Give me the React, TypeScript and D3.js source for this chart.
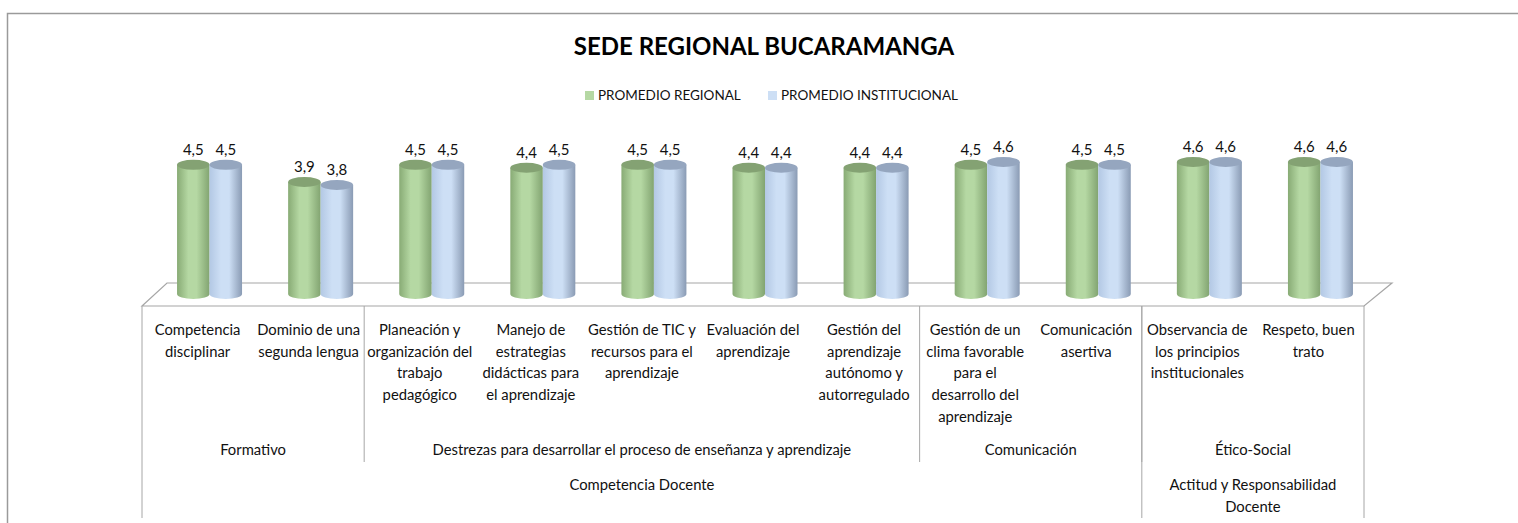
import React from "react";
import * as d3 from "d3";

const title = "SEDE REGIONAL BUCARAMANGA";
const seriesNames = ["PROMEDIO REGIONAL", "PROMEDIO INSTITUCIONAL"];
const categories = [
  "Competencia\ndisciplinar",
  "Dominio de una\nsegunda lengua",
  "Planeación y\norganización del\ntrabajo\npedagógico",
  "Manejo de\nestrategias\ndidácticas para\nel aprendizaje",
  "Gestión de TIC y\nrecursos para el\naprendizaje",
  "Evaluación del\naprendizaje",
  "Gestión del\naprendizaje\nautónomo y\nautorregulado",
  "Gestión de un\nclima favorable\npara el\ndesarrollo del\naprendizaje",
  "Comunicación\nasertiva",
  "Observancia de\nlos principios\ninstitucionales",
  "Respeto, buen\ntrato",
];
const regional = [4.5, 3.9, 4.5, 4.4, 4.5, 4.4, 4.4, 4.5, 4.5, 4.6, 4.6];
const institucional = [4.5, 3.8, 4.5, 4.5, 4.5, 4.4, 4.4, 4.6, 4.5, 4.6, 4.6];
const level1Labels = ["Formativo", "Destrezas para desarrollar el proceso de enseñanza y aprendizaje", "Comunicación", "Ético-Social"];
const level1Spans = [[0, 2], [2, 7], [7, 9], [9, 11]];
const level2Labels = ["Competencia Docente", "Actitud y Responsabilidad\nDocente"];
const level2Spans = [[0, 9], [9, 11]];

const FONT = "Lato, 'Open Sans', sans-serif";
const GREEN = { left: "#88ab75", mid: "#b5d8a3", right: "#82a471", top: "#84a273" };
const BLUE = { left: "#b3c8e4", mid: "#cddff5", right: "#8a9bb4", top: "#95a6bf" };
const TXT = "#111";
const FS = 14.8;

export default function App() {
  const W = 1518, H = 523;
  const x0 = 142, x1 = 1364;
  const floorFront = 306, floorBack = 283, depthDx = 25;
  const baseY = 294;
  const x = d3.scaleBand<number>().domain(d3.range(categories.length)).range([x0, x1]).padding(0);
  const y = d3.scaleLinear().domain([0, 5]).range([baseY, baseY - 143.5]);
  const inner = d3.scaleBand<number>().domain([0, 1]).range([-32.5, 32.5]).padding(0);
  const barShift = 12;
  const ry = 5;
  const series = [
    { values: regional, c: GREEN, id: "g" },
    { values: institucional, c: BLUE, id: "b" },
  ];
  const lineColor = "#a6a6a6";
  const lh = 21.7;

  return (
    <svg width={W} height={H} style={{ position: "absolute", left: 0, top: 0, background: "#fff" }}>
      <defs>
        {series.map((s) => (
          <linearGradient key={s.id} id={"grad-" + s.id} x1="0" x2="1" y1="0" y2="0">
            <stop offset="0%" stopColor={s.c.left} />
            <stop offset="35%" stopColor={s.c.mid} />
            <stop offset="60%" stopColor={s.c.mid} />
            <stop offset="100%" stopColor={s.c.right} />
          </linearGradient>
        ))}
      </defs>
      {/* chart border */}
      <path d={`M7.5,${H} V13.5 H${W}`} fill="none" stroke="#9a9a9a" strokeWidth={1.5} />
      {/* title */}
      <text x={764} y={55} textAnchor="middle" fontFamily={FONT} fontWeight={700} fontSize={24} fill="#000">{title}</text>
      {/* legend */}
      {series.map((s, i) => {
        const lx = [585, 768][i];
        return (
          <g key={s.id}>
            <rect x={lx} y={91} width={9} height={9} fill={s.c.mid} />
            <text x={lx + 13} y={100} fontFamily={FONT} fontSize={13.5} fill={TXT}>{seriesNames[i]}</text>
          </g>
        );
      })}
      {/* floor */}
      <path
        d={`M${x0},${floorFront} L${x0 + depthDx},${floorBack} L${x1 + depthDx + 3},${floorBack} L${x1},${floorFront} Z`}
        fill="#fff" stroke={lineColor} strokeWidth={1.2}
      />
      {/* cylinders */}
      {categories.map((_, i) => (
        <g key={i}>
          {series.map((s, k) => {
            const v = s.values[i];
            const cx = (x(i) as number) + x.bandwidth() / 2 + barShift + (inner(k) as number) + inner.bandwidth() / 2;
            const rx = inner.bandwidth() / 2;
            const top = y(v);
            return (
              <g key={s.id}>
                <path
                  d={`M${cx - rx},${top} V${baseY} A${rx},${ry} 0 0 0 ${cx + rx},${baseY} V${top} Z`}
                  fill={`url(#grad-${s.id})`}
                />
                <ellipse cx={cx} cy={top} rx={rx} ry={ry} fill={s.c.top} />
                <text x={cx} y={top - ry - 5} textAnchor="middle" fontFamily={FONT} fontSize={15} fill={TXT}>
                  {d3.format(".1f")(v).replace(".", ",")}
                </text>
              </g>
            );
          })}
        </g>
      ))}
      {/* label table lines */}
      <line x1={x0} x2={x0} y1={floorFront} y2={518} stroke={lineColor} />
      <line x1={x1} x2={x1} y1={floorFront} y2={518} stroke={lineColor} />
      {level1Spans.slice(1).map(([a], i) => (
        <line key={"l1" + i} x1={x(a) as number} x2={x(a) as number} y1={floorFront} y2={462} stroke={lineColor} />
      ))}
      {level2Spans.slice(1).map(([a], i) => (
        <line key={"l2" + i} x1={x(a) as number} x2={x(a) as number} y1={floorFront} y2={518} stroke={lineColor} />
      ))}
      {/* category labels */}
      {categories.map((c, i) => (
        <text key={"c" + i} textAnchor="middle" fontFamily={FONT} fontSize={FS} fill={TXT}>
          {c.split("\n").map((ln, j) => (
            <tspan key={j} x={(x(i) as number) + x.bandwidth() / 2} y={335 + j * lh}>{ln}</tspan>
          ))}
        </text>
      ))}
      {level1Labels.map((l, i) => {
        const [a, b] = level1Spans[i];
        const cx = ((x(a) as number) + (x(b - 1) as number) + x.bandwidth()) / 2;
        return <text key={"g1" + i} x={cx} y={455} textAnchor="middle" fontFamily={FONT} fontSize={FS} fill={TXT}>{l}</text>;
      })}
      {level2Labels.map((l, i) => {
        const [a, b] = level2Spans[i];
        const cx = ((x(a) as number) + (x(b - 1) as number) + x.bandwidth()) / 2;
        return (
          <text key={"g2" + i} textAnchor="middle" fontFamily={FONT} fontSize={FS} fill={TXT}>
            {l.split("\n").map((ln, j) => (
              <tspan key={j} x={cx} y={490 + j * lh}>{ln}</tspan>
            ))}
          </text>
        );
      })}
    </svg>
  );
}
